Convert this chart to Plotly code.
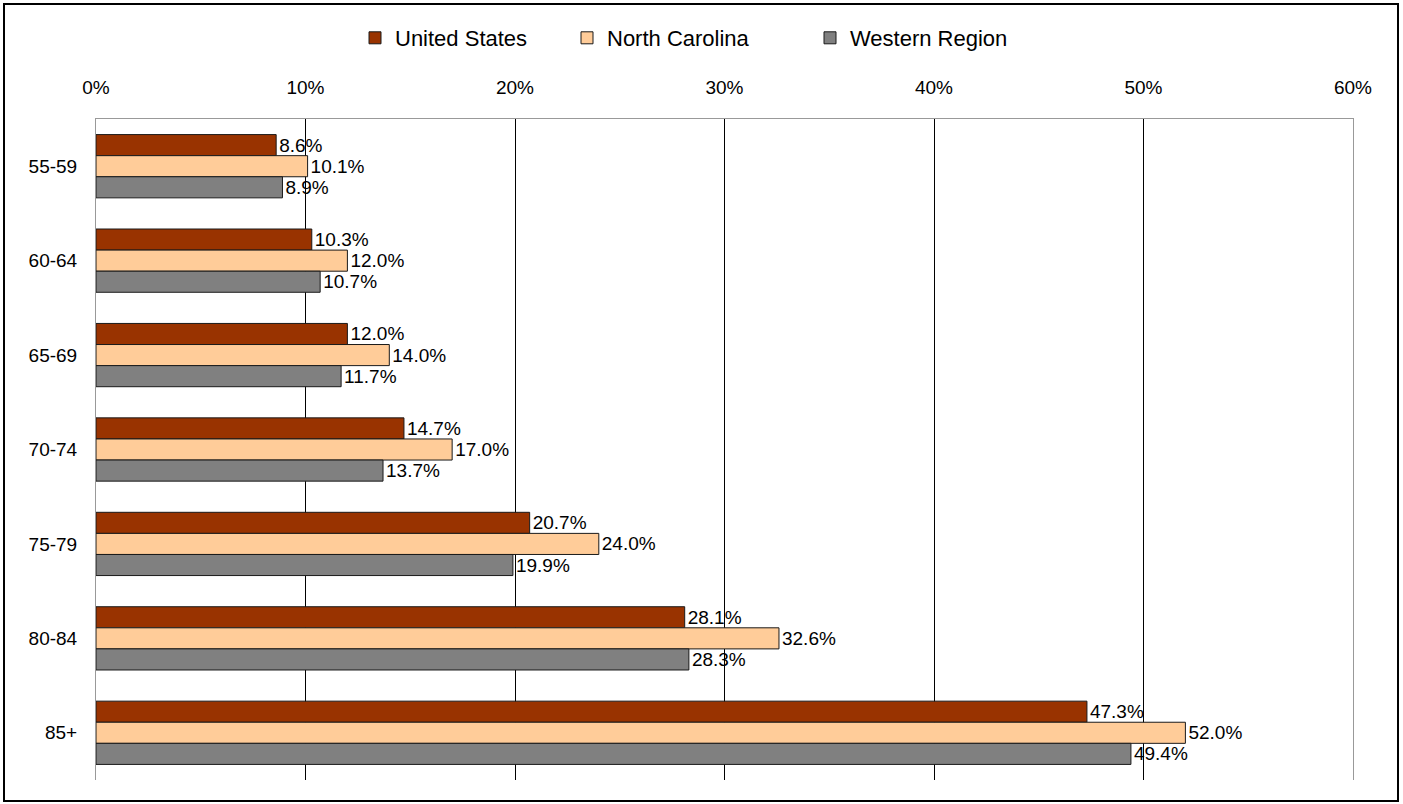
import plotly.graph_objects as go

# age groups, top to bottom
ages = ["55-59", "60-64", "65-69", "70-74", "75-79", "80-84", "85+"]

us = [0.086, 0.103, 0.120, 0.147, 0.207, 0.281, 0.473]
nc = [0.101, 0.120, 0.140, 0.170, 0.240, 0.326, 0.520]
western = [0.089, 0.107, 0.117, 0.137, 0.199, 0.283, 0.494]

x_ticks = [0, 0.1, 0.2, 0.3, 0.4, 0.5, 0.6]

W, H = 1403, 804
ml, mr, mt, mb = 96, 50, 119, 24
pw = W - ml - mr
ph = H - mt - mb

# name, values, colour, legend id, legend left edge (px)
series = [
    ("United States", us, "#993300", "legend", 355),
    ("North Carolina", nc, "#FFCC99", "legend2", 567),
    ("Western Region", western, "#808080", "legend3", 810),
]

fig = go.Figure()
legends = {}
for name, vals, col, lg, lx in series:
    fig.add_trace(
        go.Bar(
            y=ages,
            x=vals,
            name=name,
            orientation="h",
            legend=lg,
            marker=dict(color=col, line=dict(color="#1a1a1a", width=1)),
            texttemplate="%{x:.1%}",
            textposition="outside",
            textfont=dict(size=19, color="black"),
            cliponaxis=False,
        )
    )
    legends[lg] = dict(
        x=(lx - ml) / pw,
        xanchor="left",
        y=1 + (mt - 38) / ph,
        yanchor="middle",
        font=dict(size=22),
        itemwidth=30,
        bgcolor="rgba(0,0,0,0)",
    )

fig.update_layout(
    width=W,
    height=H,
    margin=dict(l=ml, r=mr, t=mt, b=mb),
    paper_bgcolor="white",
    plot_bgcolor="white",
    font=dict(family="Liberation Sans, Arial", size=19, color="black"),
    barmode="group",
    bargap=0.33,
    bargroupgap=0,
    showlegend=True,
    **legends,
    xaxis=dict(
        side="top",
        range=[0, 0.6],
        tickvals=x_ticks,
        tickformat=".0%",
        showgrid=True,
        gridcolor="black",
        gridwidth=1,
        showline=True,
        linecolor="#999999",
        linewidth=1,
        zeroline=False,
        ticks="",
        ticklabelstandoff=16,
        automargin=False,
        fixedrange=True,
    ),
    yaxis=dict(
        autorange="reversed",
        showline=True,
        linecolor="#999999",
        linewidth=1,
        mirror=True,
        showgrid=False,
        ticks="",
        ticklabelstandoff=14,
        automargin=False,
        fixedrange=True,
    ),
)

# outer border around the whole chart
fig.add_shape(
    type="rect",
    xref="paper",
    yref="paper",
    x0=-(ml - 4) / pw,
    x1=1 + (mr - 5) / pw,
    y0=-(mb - 3) / ph,
    y1=1 + (mt - 4) / ph,
    line=dict(color="black", width=2),
    layer="below",
)

fig.write_html(
    "out.html",
    config={"displayModeBar": False},
    post_script="document.body.style.margin='0';",
)
